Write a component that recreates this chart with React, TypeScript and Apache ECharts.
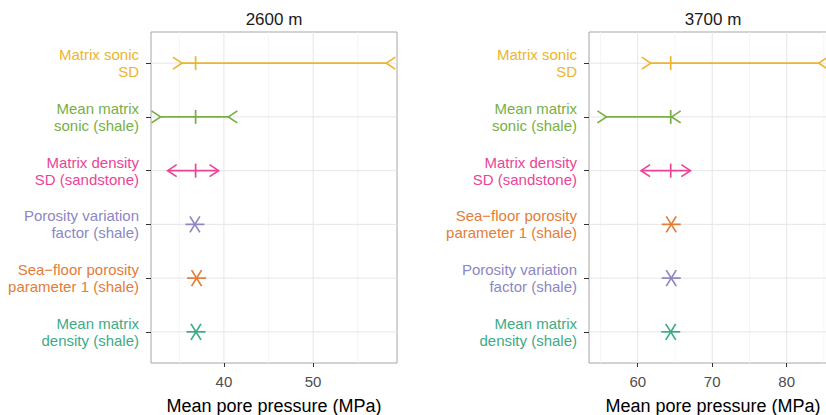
import React, { useEffect, useRef } from "react";
import * as echarts from "echarts";

// ---------- data ----------
const panelTitles = ["2600 m", "3700 m"];

const leftCategories = [
  "Matrix sonic\nSD",
  "Mean matrix\nsonic (shale)",
  "Matrix density\nSD (sandstone)",
  "Porosity variation\nfactor (shale)",
  "Sea\u2212floor porosity\nparameter 1 (shale)",
  "Mean matrix\ndensity (shale)",
];
const leftMean = [36.83, 36.83, 36.83, 36.75, 36.94, 36.87];
const leftLow: (number | null)[] = [35.3, 32.9, 33.7, null, null, null];
const leftHigh: (number | null)[] = [58.2, 40.5, 39.4, null, null, null];

const rightCategories = [
  "Matrix sonic\nSD",
  "Mean matrix\nsonic (shale)",
  "Matrix density\nSD (sandstone)",
  "Sea\u2212floor porosity\nparameter 1 (shale)",
  "Porosity variation\nfactor (shale)",
  "Mean matrix\ndensity (shale)",
];
const rightMean = [64.43, 64.43, 64.43, 64.5, 64.5, 64.43];
const rightLow: (number | null)[] = [61.75, 55.8, 60.45, null, null, null];
const rightHigh: (number | null)[] = [84.3, 64.56, 67.07, null, null, null];

const leftMajorTicks = [40, 50];
const leftMinorTicks = [35, 45, 55];
const rightMajorTicks = [60, 70, 80];
const rightMinorTicks = [55, 65, 75, 85];

const paramColor: Record<string, string> = {
  "Matrix sonic\nSD": "#EDB52C",
  "Mean matrix\nsonic (shale)": "#78AF45",
  "Matrix density\nSD (sandstone)": "#EB4497",
  "Porosity variation\nfactor (shale)": "#8C87C2",
  "Sea\u2212floor porosity\nparameter 1 (shale)": "#E47C38",
  "Mean matrix\ndensity (shale)": "#3DAA87",
};
// marker kind: inward chevrons, outward arrows, or asterisk
const paramKind: Record<string, string> = {
  "Matrix sonic\nSD": "inward",
  "Mean matrix\nsonic (shale)": "inward",
  "Matrix density\nSD (sandstone)": "outward",
  "Porosity variation\nfactor (shale)": "point",
  "Sea\u2212floor porosity\nparameter 1 (shale)": "point",
  "Mean matrix\ndensity (shale)": "point",
};

const FONT = "'Liberation Sans', Arial, Helvetica, sans-serif";
const Y_MIN = -0.58;
const Y_MAX = 5.58;

function buildPanel(
  idx: number,
  cats: string[],
  mean: number[],
  low: (number | null)[],
  high: (number | null)[],
  major: number[],
  minor: number[],
  xMin: number,
  xMax: number
) {
  const rows = cats.map((_, i) => i);
  const xAxis = {
    type: "value",
    gridIndex: idx,
    min: xMin,
    max: xMax,
    name: "Mean pore pressure (MPa)",
    nameLocation: "middle",
    nameGap: 34,
    nameTextStyle: { fontSize: 18, color: "#000", fontFamily: FONT },
    axisLine: { show: false, onZero: false },
    axisTick: { show: true, length: 4, customValues: major, lineStyle: { color: "#333", width: 1 } },
    axisLabel: { customValues: major, fontSize: 15, color: "#4d4d4d", margin: 11, fontFamily: FONT },
    splitLine: { show: false },
  };
  const yAxis = {
    type: "value",
    gridIndex: idx,
    min: Y_MIN,
    max: Y_MAX,
    inverse: true,
    axisLine: { show: false, onZero: false },
    axisTick: { show: true, length: 5, customValues: rows, lineStyle: { color: "#333", width: 1 } },
    axisLabel: {
      customValues: rows,
      formatter: (v: number) => cats[Math.round(v)] ?? "",
      color: (v: any) => paramColor[cats[Math.round(Number(v))]] || "#333",
      fontSize: 15,
      lineHeight: 17,
      margin: 12,
      align: "right",
      fontFamily: FONT,
    },
    splitLine: { show: false },
  };

  const gridSeries = [
    {
      type: "custom",
      xAxisIndex: idx,
      yAxisIndex: idx,
      silent: true,
      z: 1,
      data: minor.map((v) => [v, 0]),
      renderItem: (params: any, api: any) => {
        const v = api.value(0);
        const a = api.coord([v, Y_MIN]);
        const b = api.coord([v, Y_MAX]);
        return {
          type: "line",
          shape: { x1: a[0], y1: a[1], x2: b[0], y2: b[1] },
          style: { stroke: "#F3F3F3", lineWidth: 0.8 },
        };
      },
    },
    {
      type: "custom",
      xAxisIndex: idx,
      yAxisIndex: idx,
      silent: true,
      z: 2,
      data: major.map((v) => [v, 0]),
      renderItem: (params: any, api: any) => {
        const v = api.value(0);
        const a = api.coord([v, Y_MIN]);
        const b = api.coord([v, Y_MAX]);
        return {
          type: "line",
          shape: { x1: a[0], y1: a[1], x2: b[0], y2: b[1] },
          style: { stroke: "#E6E6E6", lineWidth: 1 },
        };
      },
    },
    {
      type: "custom",
      xAxisIndex: idx,
      yAxisIndex: idx,
      silent: true,
      z: 2,
      data: rows.map((r) => [xMin, r]),
      renderItem: (params: any, api: any) => {
        const r = api.value(1);
        const a = api.coord([xMin, r]);
        const b = api.coord([xMax, r]);
        return {
          type: "line",
          shape: { x1: a[0], y1: a[1], x2: b[0], y2: b[1] },
          style: { stroke: "#E6E6E6", lineWidth: 1 },
        };
      },
    },
  ];

  const markSeries = {
    type: "custom",
    xAxisIndex: idx,
    yAxisIndex: idx,
    z: 10,
    data: rows.map((r) => [mean[r], r, low[r] ?? mean[r], high[r] ?? mean[r]]),
    renderItem: (params: any, api: any) => {
      const i = params.dataIndex;
      const name = cats[i];
      const color = paramColor[name];
      const kind = paramKind[name];
      const c = api.coord([api.value(0), api.value(1)]);
      const cx = c[0];
      const cy = c[1];
      const style = { stroke: color, lineWidth: 1.7, fill: "none" };
      const children: any[] = [];
      if (kind === "point") {
        const h = 9.5;
        const dx = 5;
        const dy = 8;
        children.push(
          { type: "line", shape: { x1: cx - h, y1: cy, x2: cx + h, y2: cy }, style },
          { type: "line", shape: { x1: cx - dx, y1: cy - dy, x2: cx + dx, y2: cy + dy }, style },
          { type: "line", shape: { x1: cx - dx, y1: cy + dy, x2: cx + dx, y2: cy - dy }, style }
        );
      } else {
        const lx = api.coord([api.value(2), api.value(1)])[0];
        const hx = api.coord([api.value(3), api.value(1)])[0];
        const aw = 9;
        const ah = 6;
        children.push(
          { type: "line", shape: { x1: lx, y1: cy, x2: hx, y2: cy }, style },
          { type: "line", shape: { x1: cx, y1: cy - 7, x2: cx, y2: cy + 7 }, style }
        );
        if (kind === "inward") {
          children.push(
            { type: "polyline", shape: { points: [[lx - aw, cy - ah], [lx, cy], [lx - aw, cy + ah]] }, style },
            { type: "polyline", shape: { points: [[hx + aw, cy - ah], [hx, cy], [hx + aw, cy + ah]] }, style }
          );
        } else {
          children.push(
            { type: "polyline", shape: { points: [[lx + aw, cy - ah], [lx, cy], [lx + aw, cy + ah]] }, style },
            { type: "polyline", shape: { points: [[hx - aw, cy - ah], [hx, cy], [hx - aw, cy + ah]] }, style }
          );
        }
      }
      return { type: "group", children };
    },
  };

  return { xAxis, yAxis, series: [...gridSeries, markSeries] };
}

export default function App() {
  const ref = useRef<HTMLDivElement>(null);
  useEffect(() => {
    if (!ref.current) return;
    const chart = echarts.init(ref.current, undefined, { renderer: "svg" });
    const left = buildPanel(0, leftCategories, leftMean, leftLow, leftHigh, leftMajorTicks, leftMinorTicks, 31.83, 59.4);
    const right = buildPanel(1, rightCategories, rightMean, rightLow, rightHigh, rightMajorTicks, rightMinorTicks, 53.46, 86.75);
    const gridCommon = {
      top: 32,
      height: 331,
      show: true,
      borderColor: "#A6A6A6",
      borderWidth: 1,
      backgroundColor: "#fff",
      containLabel: false,
      outerBoundsMode: "none",
    };
    chart.setOption({
      animation: false,
      backgroundColor: "#fff",
      textStyle: { fontFamily: FONT },
      grid: [
        { ...gridCommon, left: 151, width: 246 },
        { ...gridCommon, left: 589, width: 248 },
      ],
      xAxis: [left.xAxis, right.xAxis],
      yAxis: [left.yAxis, right.yAxis],
      series: [...left.series, ...right.series],
      graphic: [
        {
          type: "text",
          x: 274,
          y: 19,
          style: { text: panelTitles[0], align: "center", verticalAlign: "middle", fontSize: 17, fill: "#1a1a1a", fontFamily: FONT },
        },
        {
          type: "text",
          x: 713,
          y: 19,
          style: { text: panelTitles[1], align: "center", verticalAlign: "middle", fontSize: 17, fill: "#1a1a1a", fontFamily: FONT },
        },
      ],
    });
    return () => chart.dispose();
  }, []);
  return (
    <div
      ref={ref}
      style={{ position: "absolute", left: 0, top: 0, width: 826, height: 415, overflow: "hidden" }}
    />
  );
}
